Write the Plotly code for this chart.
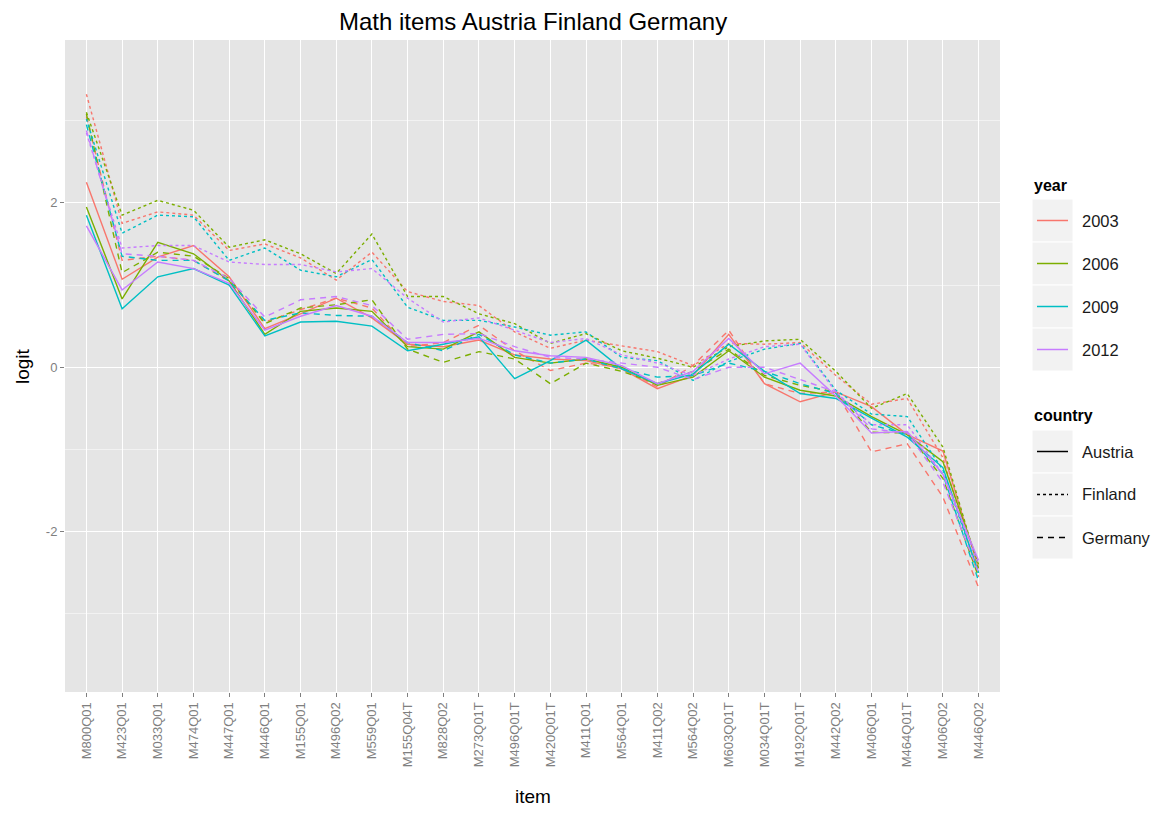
import plotly.graph_objects as go

# ---- data -------------------------------------------------------------
items = ["M800Q01", "M423Q01", "M033Q01", "M474Q01", "M447Q01", "M446Q01",
         "M155Q01", "M496Q02", "M559Q01", "M155Q04T", "M828Q02", "M273Q01T",
         "M496Q01T", "M420Q01T", "M411Q01", "M564Q01", "M411Q02", "M564Q02",
         "M603Q01T", "M034Q01T", "M192Q01T", "M442Q02", "M406Q01", "M464Q01T",
         "M406Q02", "M446Q02"]
years = ["2003", "2006", "2009", "2012"]
countries = ["Austria", "Finland", "Germany"]
y_tick_values = [-2, 0, 2]
y_tick_labels = ["-2", "0", "2"]

austria_2003 = [2.25, 1.07, 1.34, 1.48, 1.10, 0.47, 0.65, 0.84, 0.60, 0.28, 0.25, 0.33, 0.15,
                0.10, 0.08, -0.02, -0.26, -0.10, 0.40, -0.20, -0.42, -0.30, -0.48, -0.82, -1.02, -2.45]
austria_2006 = [1.95, 0.83, 1.52, 1.38, 1.05, 0.40, 0.68, 0.72, 0.68, 0.25, 0.22, 0.43, 0.12,
                0.05, 0.10, 0.00, -0.22, -0.12, 0.20, -0.12, -0.28, -0.35, -0.60, -0.82, -1.15, -2.40]
austria_2009 = [1.85, 0.71, 1.10, 1.20, 1.00, 0.38, 0.55, 0.56, 0.50, 0.20, 0.28, 0.37, -0.14,
                0.08, 0.33, -0.02, -0.20, -0.08, 0.28, -0.05, -0.32, -0.38, -0.62, -0.85, -1.22, -2.50]
austria_2012 = [1.72, 0.94, 1.28, 1.20, 1.02, 0.45, 0.62, 0.75, 0.62, 0.30, 0.30, 0.35, 0.20,
                0.14, 0.12, 0.02, -0.20, -0.05, 0.35, -0.08, 0.05, -0.35, -0.80, -0.78, -1.30, -2.35]

finland_2003 = [3.32, 1.75, 1.89, 1.85, 1.42, 1.50, 1.33, 1.06, 1.40, 0.92, 0.80, 0.75, 0.43,
                0.23, 0.33, 0.26, 0.19, 0.02, 0.29, 0.28, 0.30, -0.10, -0.45, -0.38, -1.10, -2.55]
finland_2006 = [3.10, 1.85, 2.03, 1.91, 1.46, 1.55, 1.38, 1.14, 1.62, 0.86, 0.86, 0.65, 0.53,
                0.29, 0.41, 0.20, 0.11, 0.00, 0.25, 0.32, 0.34, -0.05, -0.50, -0.32, -0.97, -2.45]
finland_2009 = [3.02, 1.63, 1.85, 1.83, 1.30, 1.45, 1.18, 1.10, 1.31, 0.73, 0.57, 0.57, 0.49,
                0.39, 0.43, 0.12, 0.08, -0.16, 0.07, 0.22, 0.29, -0.28, -0.57, -0.60, -1.25, -2.50]
finland_2012 = [2.85, 1.45, 1.48, 1.48, 1.28, 1.25, 1.25, 1.16, 1.20, 0.84, 0.55, 0.60, 0.45,
                0.30, 0.35, 0.15, 0.05, -0.10, 0.10, 0.25, 0.28, -0.30, -0.70, -0.70, -1.30, -2.40]

germany_2003 = [3.05, 1.30, 1.35, 1.30, 1.05, 0.55, 0.70, 0.84, 0.72, 0.25, 0.30, 0.51, 0.20,
                -0.04, 0.05, 0.00, -0.24, 0.02, 0.45, -0.20, -0.32, -0.30, -1.03, -0.93, -1.58, -2.68]
germany_2006 = [3.08, 1.15, 1.40, 1.35, 1.08, 0.53, 0.72, 0.76, 0.82, 0.22, 0.06, 0.19, 0.10,
                -0.20, 0.05, -0.05, -0.20, -0.05, 0.22, -0.10, -0.22, -0.30, -0.79, -0.80, -1.35, -2.55]
germany_2009 = [2.95, 1.35, 1.30, 1.30, 1.05, 0.57, 0.66, 0.63, 0.62, 0.30, 0.20, 0.40, 0.15,
                0.05, 0.10, -0.02, -0.12, -0.10, 0.05, -0.05, -0.20, -0.32, -0.70, -0.82, -1.30, -2.60]
germany_2012 = [2.88, 1.38, 1.35, 1.30, 1.08, 0.61, 0.82, 0.86, 0.75, 0.34, 0.40, 0.41, 0.25,
                0.12, 0.10, 0.05, 0.00, -0.15, 0.00, 0.00, -0.15, -0.30, -0.75, -0.80, -1.40, -2.50]

series = {
    ("Austria", "2003"): austria_2003, ("Austria", "2006"): austria_2006,
    ("Austria", "2009"): austria_2009, ("Austria", "2012"): austria_2012,
    ("Finland", "2003"): finland_2003, ("Finland", "2006"): finland_2006,
    ("Finland", "2009"): finland_2009, ("Finland", "2012"): finland_2012,
    ("Germany", "2003"): germany_2003, ("Germany", "2006"): germany_2006,
    ("Germany", "2009"): germany_2009, ("Germany", "2012"): germany_2012,
}

# ---- styles -----------------------------------------------------------
year_colors = {"2003": "#F8766D", "2006": "#7CAE00", "2009": "#00BFC4", "2012": "#C77CFF"}
country_dash = {"Austria": "solid", "Finland": "3px,3px", "Germany": "6px,5px"}
FONT = "Liberation Sans, Arial, sans-serif"
W, H = 1158, 827
PL, PR, PT, PB = 65, 1000, 40, 692   # panel edges in pixels


def fx(px):
    return (px - PL) / (PR - PL)


def fy(py):
    return (PB - py) / (PB - PT)


fig = go.Figure()
for year in years:
    for country in countries:
        fig.add_trace(go.Scatter(
            x=items, y=series[(country, year)], mode="lines",
            line=dict(color=year_colors[year], dash=country_dash[country], width=1.4),
            name=f"{country} {year}", showlegend=False,
        ))

# ---- legend drawn as keys + labels ------------------------------------
shapes, annotations = [], []
key_x0, key_x1, key_h = 1032, 1073, 43
seg_x0, seg_x1 = 1037, 1068
label_x = 1080


def legend_block(title, title_y, top, entries):
    annotations.append(dict(text="<b>%s</b>" % title, x=fx(key_x0), y=fy(title_y),
                            xref="paper", yref="paper", xanchor="left", yanchor="middle",
                            showarrow=False, font=dict(family=FONT, size=16, color="#000000")))
    for i, (label, color, dash) in enumerate(entries):
        y0 = top + i * key_h
        shapes.append(dict(type="rect", xref="paper", yref="paper",
                           x0=fx(key_x0), x1=fx(key_x1), y0=fy(y0), y1=fy(y0 + key_h),
                           fillcolor="#F2F2F2", line=dict(color="white", width=1), layer="below"))
        yc = y0 + key_h / 2
        shapes.append(dict(type="line", xref="paper", yref="paper",
                           x0=fx(seg_x0), x1=fx(seg_x1), y0=fy(yc), y1=fy(yc),
                           line=dict(color=color, dash=dash, width=1.5)))
        annotations.append(dict(text=label, x=fx(label_x), y=fy(yc), xref="paper", yref="paper",
                                xanchor="left", yanchor="middle", showarrow=False,
                                font=dict(family=FONT, size=16.5, color="#1a1a1a")))


legend_block("year", 185, 199, [(y, year_colors[y], "solid") for y in years])
legend_block("country", 415, 430, [(c, "#000000", country_dash[c]) for c in countries])

# titles
annotations.append(dict(text="Math items Austria Finland Germany", x=0.5, y=fy(22),
                        xref="paper", yref="paper", xanchor="center", yanchor="middle",
                        showarrow=False, font=dict(family=FONT, size=24, color="#000000")))
annotations.append(dict(text="item", x=0.5, y=fy(796), xref="paper", yref="paper",
                        xanchor="center", yanchor="middle", showarrow=False,
                        font=dict(family=FONT, size=19, color="#000000")))
annotations.append(dict(text="logit", x=fx(22), y=fy(366), xref="paper", yref="paper",
                        xanchor="center", yanchor="middle", textangle=-90, showarrow=False,
                        font=dict(family=FONT, size=19, color="#000000")))

fig.update_layout(
    width=W, height=H, autosize=False,
    margin=dict(l=PL, r=W - PR, t=PT, b=H - PB, pad=0),
    paper_bgcolor="white", plot_bgcolor="#E5E5E5",
    showlegend=False, shapes=shapes, annotations=annotations,
    font=dict(family=FONT),
)
fig.update_xaxes(
    type="category", range=[-0.6, len(items) - 0.4],
    showgrid=True, gridcolor="white", gridwidth=1.1, zeroline=False,
    tickangle=-90, ticks="outside", ticklen=4, tickcolor="#7F7F7F", tickwidth=1,
    tickfont=dict(family=FONT, size=13, color="#7F7F7F"), showline=False,
)
fig.update_yaxes(
    range=[-3.95, 3.98], tickvals=y_tick_values, ticktext=y_tick_labels,
    showgrid=True, gridcolor="white", gridwidth=1.1, zeroline=False,
    minor=dict(dtick=1, tick0=1, showgrid=True, gridcolor="#F2F2F2", gridwidth=0.6, ticks=""),
    ticks="outside", ticklen=4, tickcolor="#7F7F7F", tickwidth=1,
    tickfont=dict(family=FONT, size=13, color="#7F7F7F"), showline=False,
)

fig.write_html("out.html")
